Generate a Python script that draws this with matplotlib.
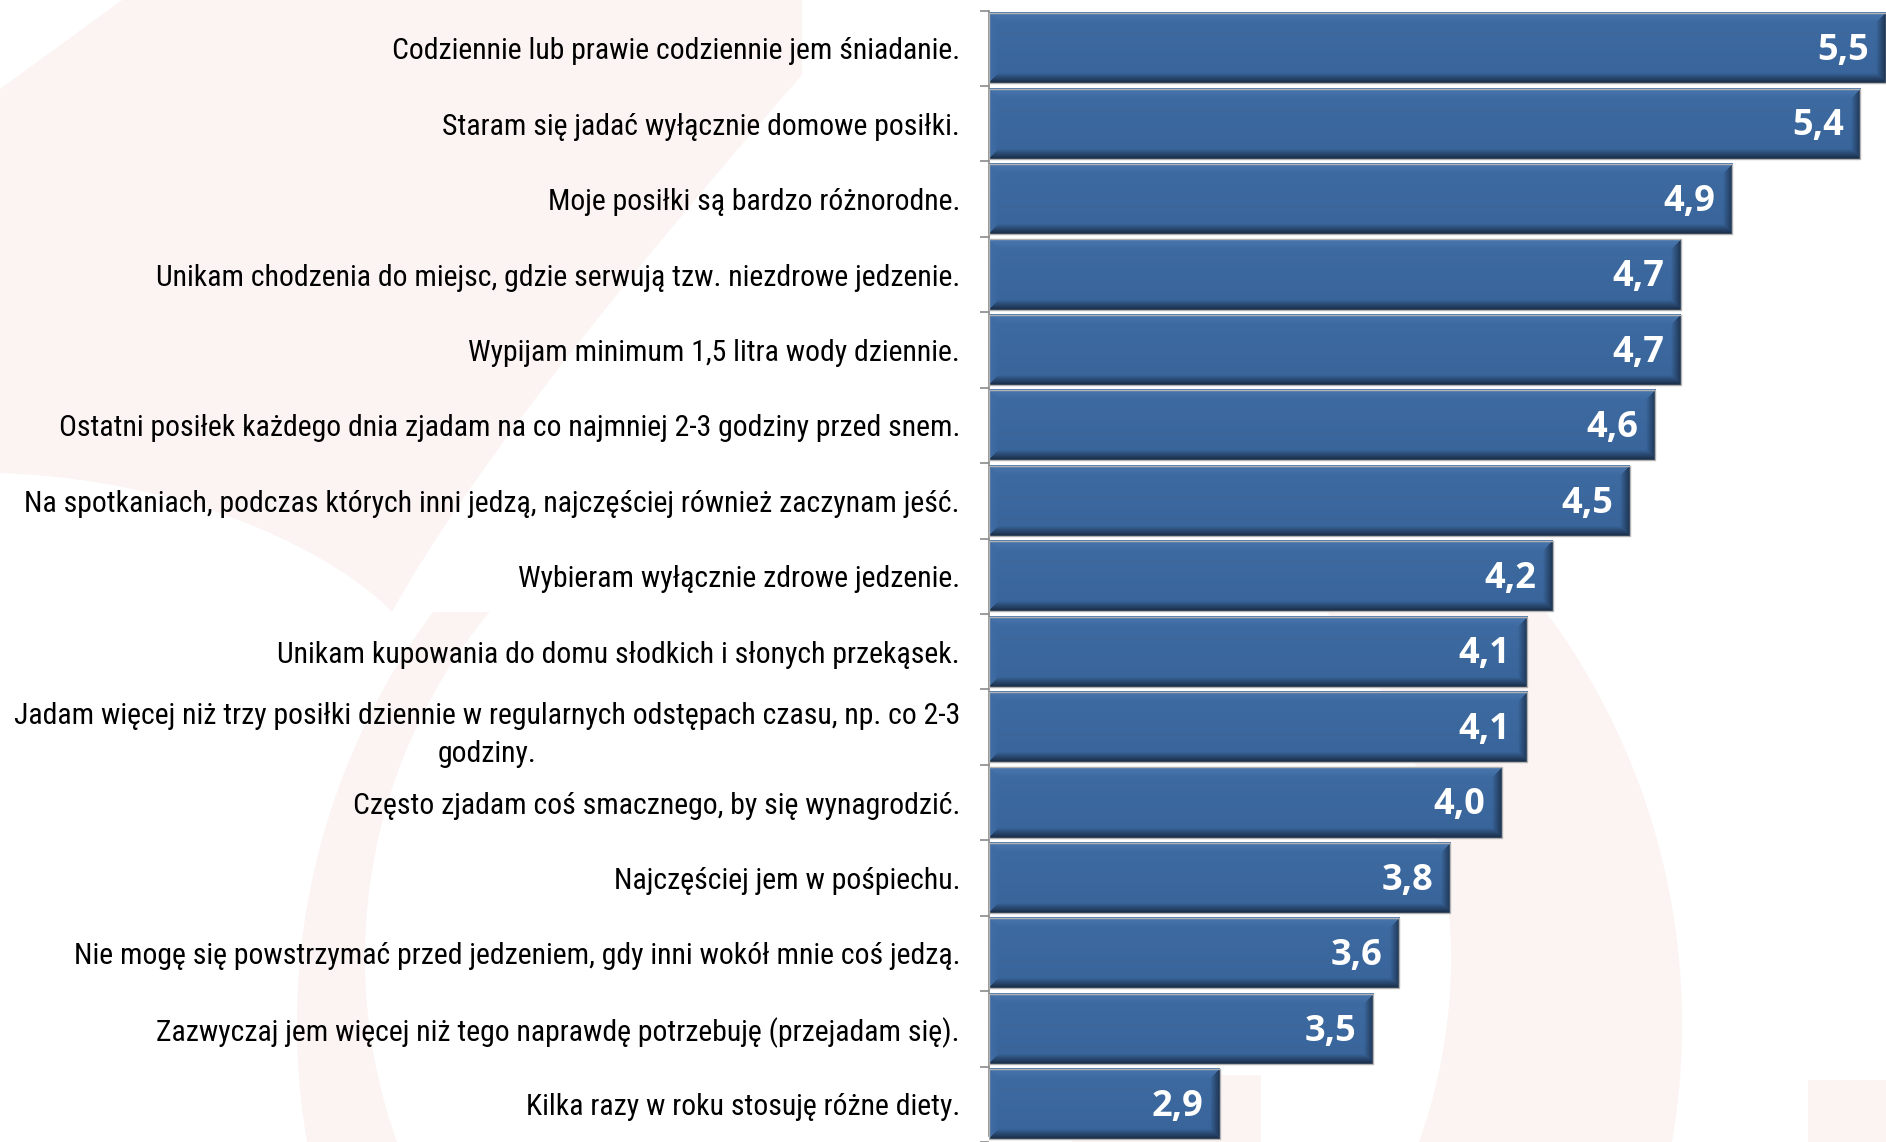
import numpy as np
import matplotlib
matplotlib.use("Agg")
import matplotlib.pyplot as plt
from matplotlib import font_manager
from matplotlib.path import Path
from matplotlib.patches import PathPatch, Rectangle
from matplotlib.colors import to_rgb

# Odpowiedzi respondentów (średnia ocena), od najwyższej
statements = [
    "Codziennie lub prawie codziennie jem śniadanie.",
    "Staram się jadać wyłącznie domowe posiłki.",
    "Moje posiłki są bardzo różnorodne.",
    "Unikam chodzenia do miejsc, gdzie serwują tzw. niezdrowe jedzenie.",
    "Wypijam minimum 1,5 litra wody dziennie.",
    "Ostatni posiłek każdego dnia zjadam na co najmniej 2-3 godziny przed snem.",
    "Na spotkaniach, podczas których inni jedzą, najczęściej również zaczynam jeść.",
    "Wybieram wyłącznie zdrowe jedzenie.",
    "Unikam kupowania do domu słodkich i słonych przekąsek.",
    "Jadam więcej niż trzy posiłki dziennie w regularnych odstępach czasu, np. co 2-3\ngodziny.",
    "Często zjadam coś smacznego, by się wynagrodzić.",
    "Najczęściej jem w pośpiechu.",
    "Nie mogę się powstrzymać przed jedzeniem, gdy inni wokół mnie coś jedzą.",
    "Zazwyczaj jem więcej niż tego naprawdę potrzebuję (przejadam się).",
    "Kilka razy w roku stosuję różne diety.",
]
scores = [5.5, 5.4, 4.9, 4.7, 4.7, 4.6, 4.5, 4.2, 4.1, 4.1, 4.0, 3.8, 3.6, 3.5, 2.9]
score_labels = [f"{v:.1f}".replace(".", ",") for v in scores]

XMIN, XMAX = 2.0, 5.5
W, H, DPI = 1886, 1142, 100
BAR_H = 0.93
BAR_COLOR = "#38649A"
PINK = "#FCF4F3"


def pick_font(candidates):
    for name in candidates:
        try:
            font_manager.findfont(font_manager.FontProperties(family=name),
                                  fallback_to_default=False)
            return name
        except ValueError:
            continue
    return "DejaVu Sans"


label_font = pick_font(["Liberation Sans Narrow", "Roboto Condensed", "Roboto", "Open Sans"])
value_font = pick_font(["Open Sans", "Lato", "DejaVu Sans"])

fig = plt.figure(figsize=(W / DPI, H / DPI), dpi=DPI)
fig.patch.set_facecolor("white")

# pale background ornaments (pixel coordinates)
bg = fig.add_axes([0, 0, 1, 1], zorder=0)
bg.set_xlim(0, W)
bg.set_ylim(H, 0)
bg.axis("off")

M, L, C, Z = Path.MOVETO, Path.LINETO, Path.CURVE4, Path.CLOSEPOLY
swoosh = Path(
    [(122, 0), (802, 0), (802, 75),
     (640, 260), (470, 470), (392, 612),
     (343, 560), (200, 480), (0, 473),
     (0, 89), (122, 0)],
    [M, L, L, C, C, C, C, C, C, L, Z])
bg.add_patch(PathPatch(swoosh, facecolor=PINK, edgecolor="none"))

t = np.linspace(0, 2 * np.pi, 400)
outer = np.column_stack([989.5 + 692.6 * np.cos(t), 1024.3 + 692.6 * np.sin(t)])
inner = np.column_stack([908 + 543 * np.cos(t[::-1]), 958 + 543 * np.sin(t[::-1])])
ring_verts = np.vstack([outer, outer[:1], inner, inner[:1]])
ring_codes = ([M] + [L] * (len(outer) - 1) + [Z]) * 2
ring = PathPatch(Path(ring_verts, ring_codes), facecolor=PINK, edgecolor="none")
bg.add_patch(ring)
clip = Rectangle((0, 612), W, H - 612, transform=bg.transData)
ring.set_clip_path(clip)

bg.add_patch(Rectangle((1072, 1075), 189, 80, facecolor=PINK, edgecolor="none"))
bg.add_patch(Rectangle((1808, 1080), 90, 80, facecolor=PINK, edgecolor="none"))

# main chart
ax_left = 989 / W
ax = fig.add_axes([ax_left, 0, 1 - ax_left, 1], zorder=1)
ax.patch.set_alpha(0)

n = len(scores)
y = np.arange(n)
slot_px = 75.8
first_center_px = 48.5
y_top = -first_center_px / slot_px
y_bottom = (H - first_center_px) / slot_px

widths = [v - XMIN for v in scores]
ax.barh(y, widths, left=XMIN, height=BAR_H, color=BAR_COLOR, zorder=1)
ax.set_xlim(XMIN, XMAX)
ax.set_ylim(y_bottom, y_top)


def bevel_image(wpx, hpx, bev=10.0):
    r = np.arange(hpx)[:, None] + 0.5
    c = np.arange(wpx)[None, :] + 0.5
    d = np.stack([
        np.broadcast_to(r, (hpx, wpx)),
        np.broadcast_to(hpx - r, (hpx, wpx)),
        np.broadcast_to(c, (hpx, wpx)),
        np.broadcast_to(wpx - c, (hpx, wpx)),
    ])
    nearest = d.argmin(axis=0)
    w = np.clip(1 - d.min(axis=0) / bev, 0, 1)[..., None]
    base = np.array(to_rgb(BAR_COLOR))
    light = np.array(to_rgb("#3E6BA1"))
    g = (r / hpx)[..., None]
    body = light * (1 - g) + base * g
    body = np.broadcast_to(body, (hpx, wpx, 3))
    edges = np.array([to_rgb("#4A78AE"), to_rgb("#182A42"),
                      to_rgb("#406EA4"), to_rgb("#1D3350")])
    ec = edges[nearest]
    return body * (1 - w) + ec * w


fig.canvas.draw()
for yi, v in zip(y, scores):
    x0, y0 = ax.transData.transform((XMIN, yi - BAR_H / 2))
    x1, y1 = ax.transData.transform((v, yi + BAR_H / 2))
    wpx = max(int(round(abs(x1 - x0))), 2)
    hpx = max(int(round(abs(y1 - y0))), 2)
    ax.imshow(bevel_image(wpx, hpx), extent=(XMIN, v, yi + BAR_H / 2, yi - BAR_H / 2),
              origin="upper", aspect="auto", interpolation="bilinear", zorder=2)

ax.barh(y, widths, left=XMIN, height=BAR_H, fill=False,
        edgecolor="#B2B2B2", linewidth=1.0, zorder=3)
ax.set_xlim(XMIN, XMAX)
ax.set_ylim(y_bottom, y_top)

for yi, v, lbl in zip(y, scores, score_labels):
    ax.annotate(lbl, xy=(v, yi), xytext=(-12, -2), textcoords="offset points",
                ha="right", va="center", color="white", fontsize=26,
                fontweight="bold", family=value_font, zorder=4)

# axis: category labels at bar centres, tick marks between bars
ax.set_yticks(y)
ax.set_yticklabels(statements, family=label_font, fontsize=20, color="black",
                   linespacing=1.45)
ax.tick_params(axis="y", which="major", length=0, pad=29 * 72 / DPI)
ax.set_yticks(np.arange(-0.5, n, 1.0), minor=True)
ax.tick_params(axis="y", which="minor", length=6.5, width=1.2, color="#8A8A8A",
               direction="out")
ax.xaxis.set_visible(False)
for side in ("top", "right", "bottom"):
    ax.spines[side].set_visible(False)
ax.spines["left"].set_color("#8A8A8A")
ax.spines["left"].set_linewidth(1.2)
ax.spines["left"].set_bounds(-0.5, y_bottom)

# fit label size so the longest single-line label spans its width
fig.canvas.draw()
renderer = fig.canvas.get_renderer()
ticklabels = ax.get_yticklabels()
ref = ticklabels[6]
cur = ref.get_window_extent(renderer).width
size = 20 * 934.0 / cur
for tl in ticklabels:
    tl.set_fontsize(size)
ticklabels[9].set_multialignment("center")

fig.savefig("out.png", dpi=DPI, facecolor="white")
